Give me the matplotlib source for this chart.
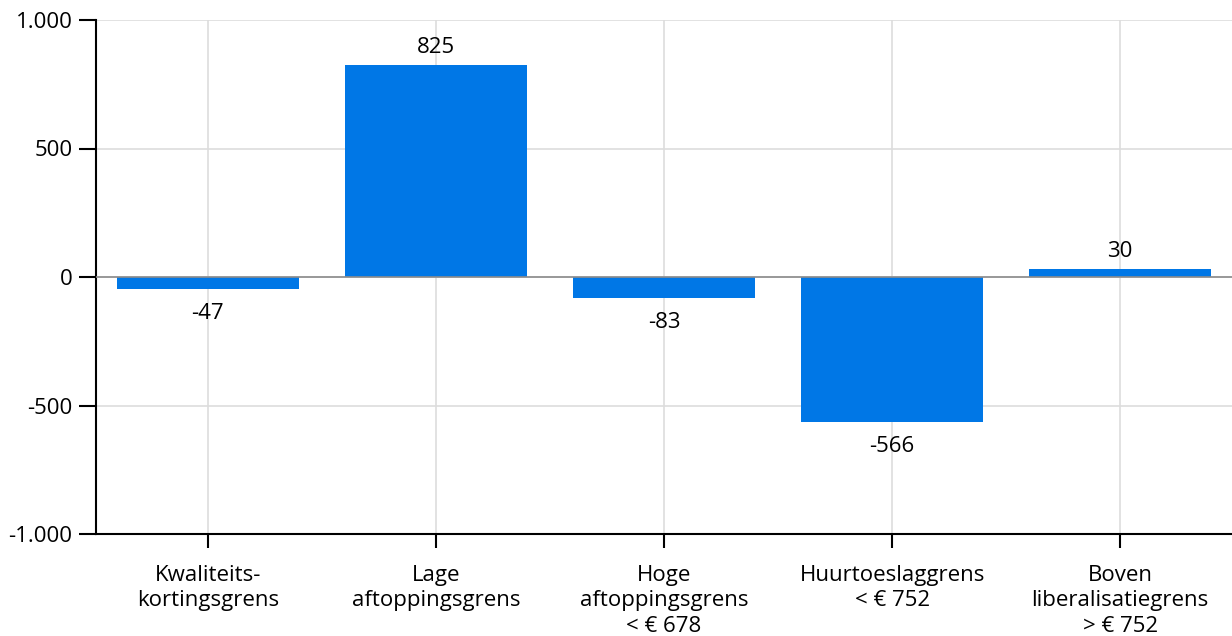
import matplotlib.pyplot as plt
from matplotlib.ticker import FuncFormatter

plt.rcParams['font.family'] = ['Open Sans', 'DejaVu Sans']

categories = [
    'Kwaliteits-\nkortingsgrens',
    'Lage\naftoppingsgrens',
    'Hoge\naftoppingsgrens\n< € 678',
    'Huurtoeslaggrens\n< € 752',
    'Boven\nliberalisatiegrens\n> € 752',
]
values = [-47, 825, -83, -566, 30]
y_ticks = [-1000, -500, 0, 500, 1000]

BLUE = '#0077e6'
FS = 16


def fmt_nl(v, pos=None):
    # Dutch thousands separator
    return f'{int(v):,}'.replace(',', '.')


fig = plt.figure(figsize=(12.32, 6.36), dpi=100)
ax = fig.add_axes([96 / 1232, 1 - 534 / 636, 1 - 96 / 1232, 514 / 636])

x = list(range(len(categories)))
ax.bar(x, values, width=0.8, color=BLUE, zorder=2)
ax.axhline(0, color='#8c8c8c', lw=1.2, zorder=3)

for xi, v in zip(x, values):
    if v >= 0:
        ax.annotate(str(v), (xi, v), xytext=(0, 5), textcoords='offset points',
                    ha='center', va='bottom', fontsize=FS)
    else:
        ax.annotate(fmt_nl(v), (xi, v), xytext=(0, -10), textcoords='offset points',
                    ha='center', va='top', fontsize=FS)

ax.set_xlim(-0.49, 4.49)
ax.set_ylim(-1000, 1000)
ax.set_yticks(y_ticks)
ax.yaxis.set_major_formatter(FuncFormatter(fmt_nl))
ax.set_xticks(x)
ax.set_xticklabels(categories, fontsize=FS, linespacing=1.28)

ax.grid(True, color='#dddddd', lw=1.2, zorder=0)
ax.set_axisbelow(True)
for side in ['top', 'right']:
    ax.spines[side].set_visible(False)
for side in ['left', 'bottom']:
    ax.spines[side].set_color('black')
    ax.spines[side].set_linewidth(1.5)

ax.tick_params(axis='y', length=12, width=1.5, labelsize=FS, pad=5)
ax.tick_params(axis='x', length=10, width=1.5, pad=12)

fig.savefig('out.png', dpi=100)
